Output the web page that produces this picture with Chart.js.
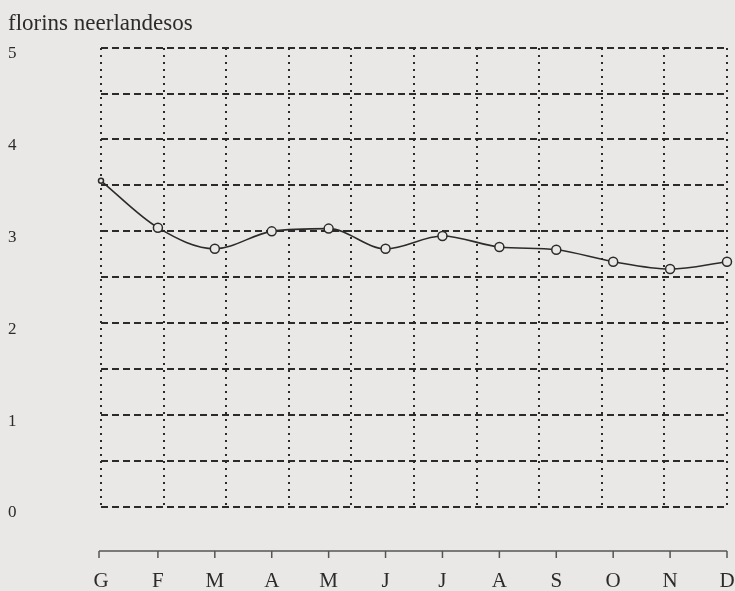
<!DOCTYPE html>
<html>
<head>
<meta charset="utf-8">
<script src="https://cdn.jsdelivr.net/npm/chart.js@4/dist/chart.umd.min.js"></script>
<style>
  html, body { margin: 0; padding: 0; background: #e9e8e6; }
  #wrap { width: 735px; height: 591px; }
</style>
</head>
<body>
<div id="wrap"><canvas id="chart"></canvas></div>
<script>
// data
const months = ['G', 'F', 'M', 'A', 'M', 'J', 'J', 'A', 'S', 'O', 'N', 'D'];
const florins = [3.55, 3.04, 2.81, 3.0, 3.03, 2.81, 2.95, 2.83, 2.80, 2.67, 2.59, 2.67];
const yTicks = [0, 1, 2, 3, 4, 5];
const unitLabel = 'florins neerlandesos';

const ink = '#2b2b2b';
const paper = '#e9e8e6';
const serif = "'Liberation Serif', 'DejaVu Serif', serif";

// month axis drawn a bit below the plot, like the original
const monthAxis = {
    id: 'monthAxis',
    afterDraw(chart) {
        const { ctx, chartArea, scales } = chart;
        const x = scales.x;
        const y0 = chartArea.bottom + 44;
        ctx.save();
        ctx.strokeStyle = '#555';
        ctx.lineWidth = 1.5;
        ctx.beginPath();
        ctx.moveTo(x.getPixelForValue(0) - 2, y0);
        ctx.lineTo(x.getPixelForValue(months.length - 1), y0);
        months.forEach((m, i) => {
            const px = x.getPixelForValue(i) - (i === 0 ? 2 : 0);
            ctx.moveTo(px, y0);
            ctx.lineTo(px, y0 + 7);
        });
        ctx.stroke();
        ctx.restore();
    }
};

new Chart(document.getElementById('chart'), {
    type: 'line',
    data: {
        labels: months,
        datasets: [{
            data: florins,
            borderColor: ink,
            borderWidth: 1.6,
            cubicInterpolationMode: 'monotone',
            pointRadius: florins.map((v, i) => i === 0 ? 2.5 : 4.5),
            pointBorderWidth: 1.5,
            pointBorderColor: ink,
            pointBackgroundColor: paper,
            fill: false
        }]
    },
    options: {
        responsive: true,
        maintainAspectRatio: false,
        animation: false,
        layout: { padding: { left: 8, right: 8, top: 0, bottom: 0 } },
        plugins: {
            legend: { display: false },
            tooltip: { enabled: false },
            title: {
                display: true,
                text: unitLabel,
                align: 'start',
                color: ink,
                font: { family: serif, size: 23, weight: 'normal' },
                padding: { top: 10, bottom: 10 }
            }
        },
        scales: {
            x: {
                type: 'category',
                offset: false,
                grid: { display: false, drawTicks: false },
                border: { display: false },
                ticks: {
                    color: ink,
                    padding: 62,
                    maxRotation: 0,
                    autoSkip: false,
                    font: { family: serif, size: 21 }
                },
                afterFit(scale) {
                    scale.height = 84;
                    // the big label padding must not eat the plot width
                    scale.paddingLeft = 0;
                    scale.paddingRight = 0;
                }
            },
            xg: {
                type: 'linear',
                position: 'top',
                min: 0,
                max: 10,
                ticks: { display: false, stepSize: 1 },
                grid: { color: ink, lineWidth: 2, drawTicks: false },
                border: { display: false, dash: [2, 5] },
                afterFit(scale) { scale.height = 0; }
            },
            y: {
                min: 0,
                max: 5,
                ticks: {
                    stepSize: 0.5,
                    color: ink,
                    crossAlign: 'far',
                    labelOffset: 6,
                    font: { family: serif, size: 17 },
                    callback: (v) => yTicks.includes(v) ? String(v) : ''
                },
                grid: { color: ink, lineWidth: 2, drawTicks: false },
                border: { display: false, dash: [7, 4] },
                afterFit(scale) { scale.width = 93; }
            }
        }
    },
    plugins: [monthAxis]
});
</script>
</body>
</html>
